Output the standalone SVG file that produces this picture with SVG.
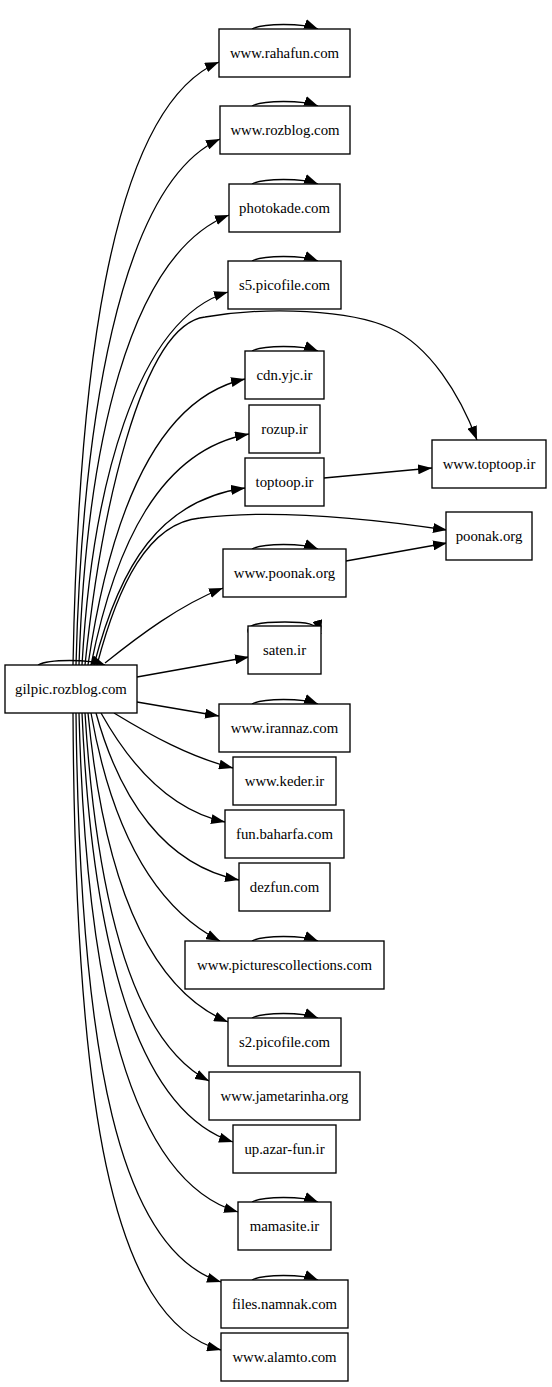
<svg xmlns="http://www.w3.org/2000/svg" width="552" height="1387" viewBox="0 0 552 1387">
<defs>
<marker id="ah" markerUnits="userSpaceOnUse" viewBox="0 0 14 10" refX="14" refY="5" markerWidth="14" markerHeight="10" orient="auto">
<polygon points="0,0 14,5 0,10" fill="#000"/>
</marker>
<style>
.n rect{fill:#fff;stroke:#000;stroke-width:1.35}
.n text{font-family:"Liberation Serif","Times New Roman",serif;font-size:14.8px;text-anchor:middle;fill:#000}
#edges path{fill:none;stroke:#000;stroke-width:1.3;marker-end:url(#ah)}
</style>
</defs>
<rect x="0" y="0" width="552" height="1387" fill="#fff"/>
<g id="edges">
<path d="M38,665 C49,659 89,659 105,665"/>
<path d="M252,29 C263,23 303,23 318,29"/>
<path d="M252,106 C263,100 303,100 318,106"/>
<path d="M252,184 C263,178 303,178 318,184"/>
<path d="M252,261 C263,255 303,255 318,261"/>
<path d="M252,351 C263,345 303,345 318,351"/>
<path d="M252,549 C263,543 303,543 318,549"/>
<path d="M249,634 C243,624 262,622 285,622 C305,622 318,623 321,634"/>
<path d="M252,704 C263,698 303,698 318,704"/>
<path d="M252,941 C263,935 303,935 318,941"/>
<path d="M252,1018 C263,1012 303,1012 318,1018"/>
<path d="M252,1202 C263,1196 303,1196 318,1202"/>
<path d="M252,1280 C263,1274 303,1274 318,1280"/>
<path d="M73,665 C78,400 105,110 219,62"/>
<path d="M76,665 C82,430 118,185 220,139"/>
<path d="M79,665 C86,450 128,255 229,215"/>
<path d="M82,665 C92,490 135,320 228,292"/>
<path d="M85,665 C100,520 140,325 205,317 C270,306 350,310 390,328 C430,346 460,395 477,440"/>
<path d="M88,665 C108,530 150,400 245,379"/>
<path d="M91,665 C115,545 160,450 249,434"/>
<path d="M94,665 C120,565 160,500 245,488"/>
<path d="M97,665 C118,585 148,523 200,518 C280,508 380,520 447,530"/>
<path d="M105,663 C140,635 180,605 223,588"/>
<path d="M137,677 L249,657"/>
<path d="M137,702 L219,716"/>
<path d="M114,713 C150,735 190,757 233,768"/>
<path d="M101,713 C130,765 170,810 225,822"/>
<path d="M96,713 C120,800 165,865 239,880"/>
<path d="M91,713 C110,820 150,905 220,941"/>
<path d="M88,713 C102,860 140,985 228,1022"/>
<path d="M85,713 C96,890 130,1040 209,1081"/>
<path d="M82,713 C92,940 135,1110 233,1142"/>
<path d="M79,713 C86,990 130,1180 238,1212"/>
<path d="M76,713 C80,1060 120,1250 221,1282"/>
<path d="M73,713 C75,1100 110,1320 221,1350"/>
<path d="M324,478 L432,468"/>
<path d="M346,561 L447,543"/>
</g>
<g id="n-gilpic" class="n"><rect x="5" y="665" width="132" height="48"/><text x="71" y="694">gilpic.rozblog.com</text></g>
<g id="n-rahafun" class="n"><rect x="219" y="29" width="131" height="48"/><text x="284.5" y="58">www.rahafun.com</text></g>
<g id="n-rozblog" class="n"><rect x="220" y="106" width="130" height="48"/><text x="285" y="135">www.rozblog.com</text></g>
<g id="n-photokade" class="n"><rect x="229" y="184" width="111" height="48"/><text x="284.5" y="213">photokade.com</text></g>
<g id="n-s5" class="n"><rect x="228" y="261" width="113" height="48"/><text x="284.5" y="290">s5.picofile.com</text></g>
<g id="n-cdn" class="n"><rect x="245" y="351" width="79" height="48"/><text x="284.5" y="380">cdn.yjc.ir</text></g>
<g id="n-rozup" class="n"><rect x="249" y="405" width="71" height="48"/><text x="284.5" y="434">rozup.ir</text></g>
<g id="n-toptoop" class="n"><rect x="245" y="458" width="79" height="48"/><text x="284.5" y="487">toptoop.ir</text></g>
<g id="n-wwwtoptoop" class="n"><rect x="432" y="440" width="114" height="48"/><text x="489" y="469">www.toptoop.ir</text></g>
<g id="n-poonak" class="n"><rect x="446" y="512" width="86" height="48"/><text x="489" y="541">poonak.org</text></g>
<g id="n-wwwpoonak" class="n"><rect x="223" y="549" width="123" height="48"/><text x="284.5" y="578">www.poonak.org</text></g>
<g id="n-saten" class="n"><rect x="248" y="626" width="73" height="48"/><text x="284.5" y="655">saten.ir</text></g>
<g id="n-irannaz" class="n"><rect x="219" y="704" width="131" height="48"/><text x="284.5" y="733">www.irannaz.com</text></g>
<g id="n-keder" class="n"><rect x="233" y="757" width="103" height="48"/><text x="284.5" y="786">www.keder.ir</text></g>
<g id="n-baharfa" class="n"><rect x="225" y="810" width="119" height="48"/><text x="284.5" y="839">fun.baharfa.com</text></g>
<g id="n-dezfun" class="n"><rect x="239" y="863" width="91" height="48"/><text x="284.5" y="892">dezfun.com</text></g>
<g id="n-pictures" class="n"><rect x="185" y="941" width="199" height="48"/><text x="284.5" y="970">www.picturescollections.com</text></g>
<g id="n-s2" class="n"><rect x="228" y="1018" width="113" height="48"/><text x="284.5" y="1047">s2.picofile.com</text></g>
<g id="n-jametarinha" class="n"><rect x="209" y="1072" width="151" height="48"/><text x="284.5" y="1101">www.jametarinha.org</text></g>
<g id="n-azar" class="n"><rect x="233" y="1125" width="103" height="48"/><text x="284.5" y="1154">up.azar-fun.ir</text></g>
<g id="n-mamasite" class="n"><rect x="238" y="1202" width="93" height="48"/><text x="284.5" y="1231">mamasite.ir</text></g>
<g id="n-namnak" class="n"><rect x="221" y="1280" width="127" height="48"/><text x="284.5" y="1309">files.namnak.com</text></g>
<g id="n-alamto" class="n"><rect x="221" y="1333" width="127" height="48"/><text x="284.5" y="1362">www.alamto.com</text></g>
</svg>
